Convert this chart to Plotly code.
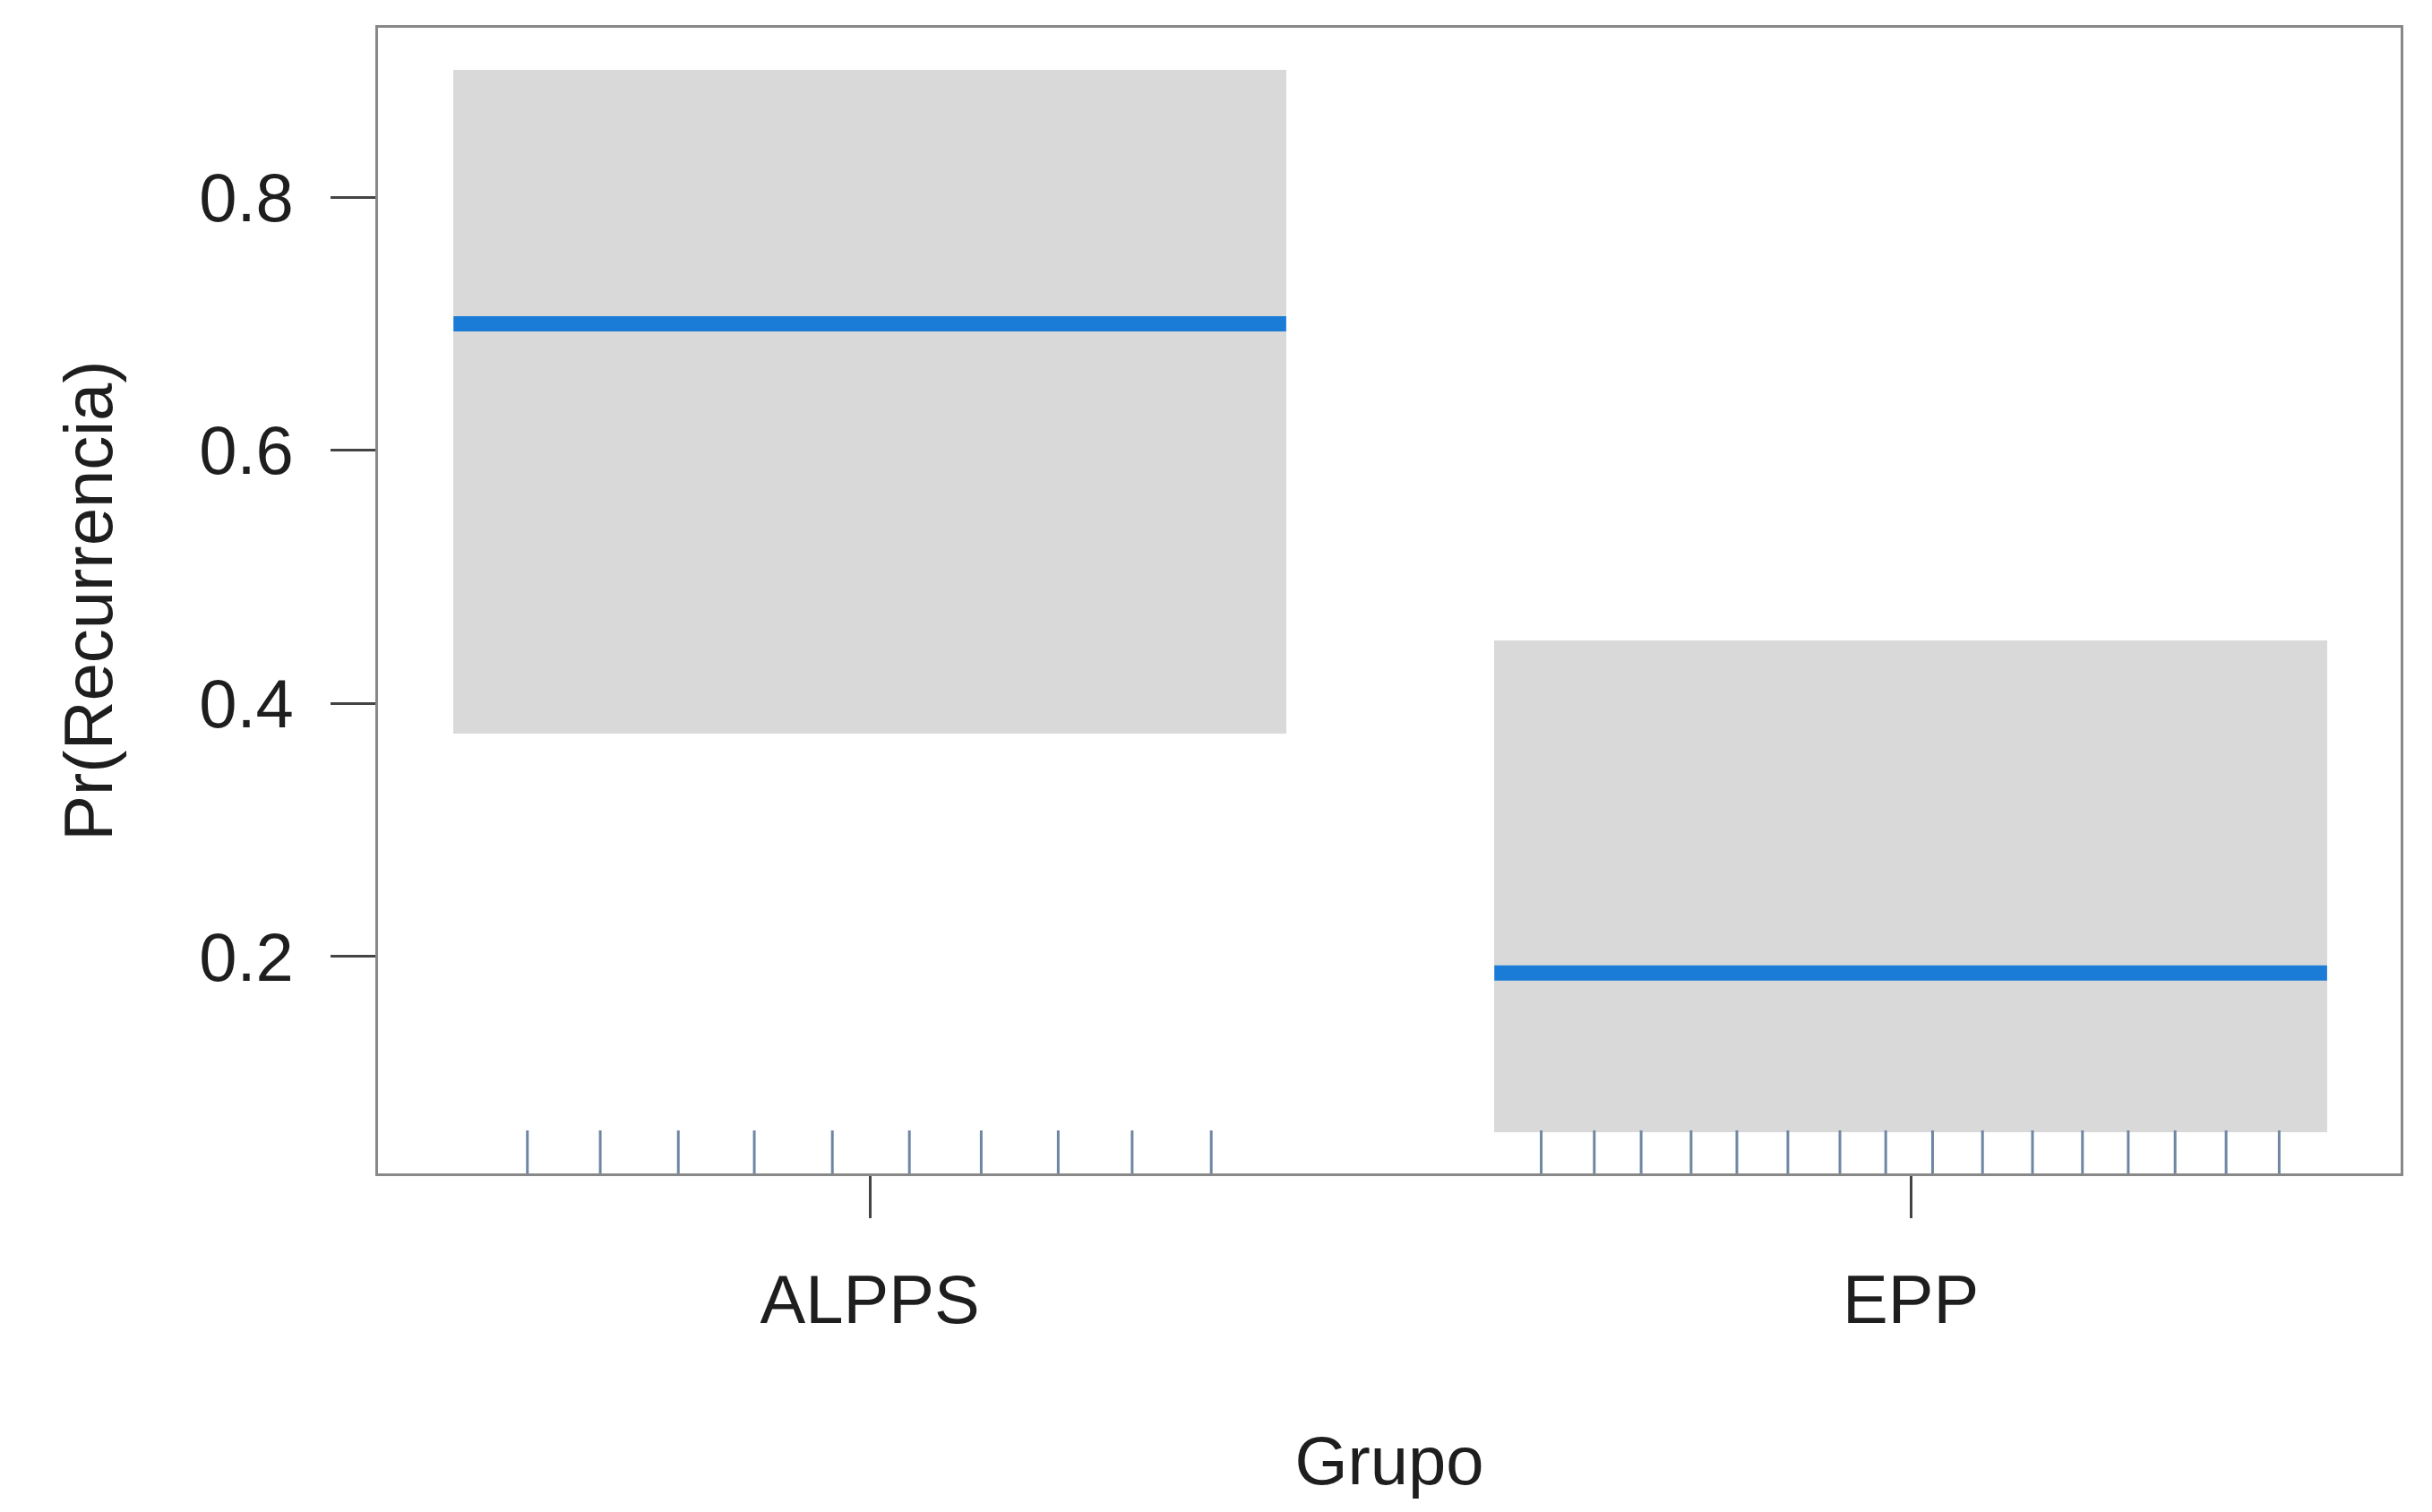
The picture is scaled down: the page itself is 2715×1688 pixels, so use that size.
import plotly.graph_objects as go

# ---- data ----
groups = ["ALPPS", "EPP"]
group_pos = [1, 2]
fit = [0.700, 0.187]
lower = [0.376, 0.061]
upper = [0.901, 0.450]
rug_alpps = [0.671, 0.741, 0.816, 0.889, 0.964, 1.038, 1.107, 1.181, 1.252, 1.328]
rug_epp = [1.645, 1.696, 1.741, 1.789, 1.833, 1.882, 1.932, 1.976, 2.021, 2.069,
           2.117, 2.165, 2.209, 2.254, 2.303, 2.354]
y_ticks = [0.2, 0.4, 0.6, 0.8]

# ---- style ----
HALF = 0.4
X_RANGE = [0.5275, 2.4707]
Y_RANGE = [0.0287, 0.934]
RUG_LEN = 0.034
FONT = "Liberation Sans, Arial, sans-serif"
TXT = "#1e1e1e"
BAND = "#d9d9d9"
LINE = "#1a7cd6"

fig = go.Figure()

# confidence bands
fig.add_trace(go.Bar(
    x=group_pos,
    y=[u - l for u, l in zip(upper, lower)],
    base=lower,
    width=2 * HALF,
    marker=dict(color=BAND, line=dict(width=0)),
    showlegend=False, hoverinfo="skip",
))

# fitted lines
for p, f in zip(group_pos, fit):
    fig.add_trace(go.Scatter(
        x=[p - HALF, p + HALF], y=[f, f], mode="lines",
        line=dict(color=LINE, width=17), showlegend=False,
    ))

# rug
rx, ry = [], []
for v in rug_alpps + rug_epp:
    rx += [v, v, None]
    ry += [Y_RANGE[0], Y_RANGE[0] + RUG_LEN, None]
fig.add_trace(go.Scatter(
    x=rx, y=ry, mode="lines",
    line=dict(color="#6f86a3", width=3), showlegend=False, hoverinfo="skip",
))

fig.update_layout(
    width=2715, height=1688,
    margin=dict(l=422, r=35, t=31, b=378, pad=0),
    plot_bgcolor="white", paper_bgcolor="white",
    font=dict(family=FONT, size=76, color=TXT),
    bargap=0,
)
fig.update_xaxes(
    range=X_RANGE, tickmode="array", tickvals=group_pos, ticktext=groups,
    ticks="outside", ticklen=47, tickwidth=3, tickcolor="#444",
    ticklabelstandoff=26,
    showline=True, linecolor="#888", linewidth=3, mirror=True,
    showgrid=False, zeroline=False,
    tickfont=dict(size=76, color=TXT),
    title=dict(text="Grupo", font=dict(size=76, color=TXT), standoff=112),
)
fig.update_yaxes(
    range=Y_RANGE, tickmode="array", tickvals=y_ticks,
    ticktext=[f"{t:.1f}" for t in y_ticks],
    ticks="outside", ticklen=50, tickwidth=3, tickcolor="#444",
    ticklabelstandoff=26,
    showline=True, linecolor="#888", linewidth=3, mirror=True,
    showgrid=False, zeroline=False,
    tickfont=dict(size=76, color=TXT),
    title=dict(text="Pr(Recurrencia)", font=dict(size=76, color=TXT), standoff=72),
)

fig.write_html("out.html", config={"displayModeBar": False})

# remove default body margin so the figure sits at the window origin
with open("out.html", "r", encoding="utf-8") as fh:
    html = fh.read()
html = html.replace("<body>", '<body style="margin:0;overflow:hidden">', 1)
with open("out.html", "w", encoding="utf-8") as fh:
    fh.write(html)
